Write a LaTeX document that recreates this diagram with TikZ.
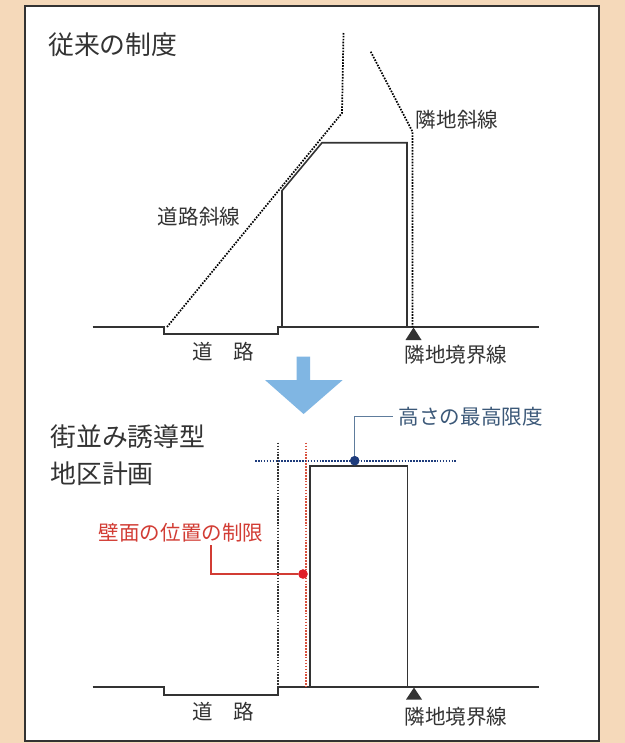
\documentclass[tikz,border=0pt]{standalone}
\usepackage{fontspec}
\newfontfamily\jpfont{Noto Sans CJK JP}
\usetikzlibrary{positioning}
\definecolor{paper}{HTML}{F5D9BA}
\definecolor{arrowblue}{HTML}{80B6E3}
\definecolor{navydot}{HTML}{1E3C7C}
\definecolor{navyline}{HTML}{5E7C9C}
\definecolor{navytext}{HTML}{3B5878}
\definecolor{redtext}{HTML}{D23C34}
\definecolor{reddot}{HTML}{E0202A}
\definecolor{redlimit}{HTML}{D8503C}
\definecolor{ink}{HTML}{333333}

\begin{document}
\begin{tikzpicture}
[
    x=0.75pt, y=-0.75pt,
    every node/.style={inner sep=0pt, text=ink},
    title/.style={font=\jpfont\fontsize{19.4}{24}\selectfont, anchor=west},
    tag/.style={font=\jpfont\fontsize{15.4}{18}\selectfont},
    outline/.style={draw=ink, line width=1.2pt},
    limit/.style={line width=1.3pt, dash pattern=on 1.2pt off 1pt},
    marker/.style={fill=ink},
    pin/.style={circle, minimum size=7pt},
]
% paper and frame
\fill[paper] (0,0) rectangle (625,743);
\draw[fill=white, draw=ink, line width=1.5pt] (25,6) rectangle (599,741);
\useasboundingbox (0,0) rectangle (625,743);

% ---- old rules
\node [title] (oldtitle) at (48,45) {従来の制度};
\draw [outline] (92.5,327) -- (164,327) -- (164,334) -- (278,334) -- (278,327) -- (539,327);
\draw [outline] (282,326) -- (282,190.7) -- (322,142.7) -- (407,142.7) -- (407,327);
\draw [limit] (167,327) -- (342,113) -- (343.5,33);
\draw [limit] (370.7,51.7) -- (412.5,131.7) -- (412.5,327);
\fill [marker] (413.5,327.5) -- (421.5,340) -- (405.5,340) -- cycle;
\node [tag] (roadslope) at (199,217) {道路斜線};
\node [tag] (sideslope) at (457,120) {隣地斜線};
\node [tag] (road1) at (223,352) {道　路};
\node [tag] (border1) at (456,355) {隣地境界線};

% ---- arrow
\fill [arrowblue] (296.7,356.7) -- (310,356.7) -- (310,380) -- (342.7,380)
    -- (303.6,414) -- (265,380) -- (296.7,380) -- cycle;

% ---- district plan
\node [title] (newtitle) at (50,437) {街並み誘導型};
\node [title, below=9.5pt of newtitle.south west, anchor=north west] (newtitle2) {地区計画};
\draw [outline] (92.5,687) -- (164,687) -- (164,695) -- (278,695) -- (278,687) -- (539,687);
\draw [outline] (309.7,687) -- (309.7,466) -- (407.3,466) -- (407.3,687);
\draw [limit, ink] (277.8,442.7) -- (277.8,687);
\draw [limit, redlimit] (305.7,442.7) -- (305.7,687);
\draw [limit, navydot] (255,460.7) -- (456,460.7);
\fill [marker] (414,687.5) -- (422,699.5) -- (406,699.5) -- cycle;

\node [pin, fill=navydot] (hdot) at (354.7,460.7) {};
\node [tag, anchor=west, text=navytext] (htext) at (398.6,416.7) {高さの最高限度};
\draw [navyline, line width=0.9pt, shorten >=4.5pt] (hdot) |- (htext.west);
\node [pin, fill=navydot] at (hdot) {};

\node [pin, fill=reddot] (wdot) at (303,574) {};
\node [tag, text=redtext] (wtext) at (181,533) {壁面の位置の制限};
\coordinate (wturn) at (211,545);
\draw [redtext, line width=0.9pt] (wdot) -| (wturn);
\node [pin, fill=reddot] at (wdot) {};

\node [tag] (road2) at (223,712) {道　路};
\node [tag] (border2) at (456,717) {隣地境界線};
\end{tikzpicture}
\end{document}
